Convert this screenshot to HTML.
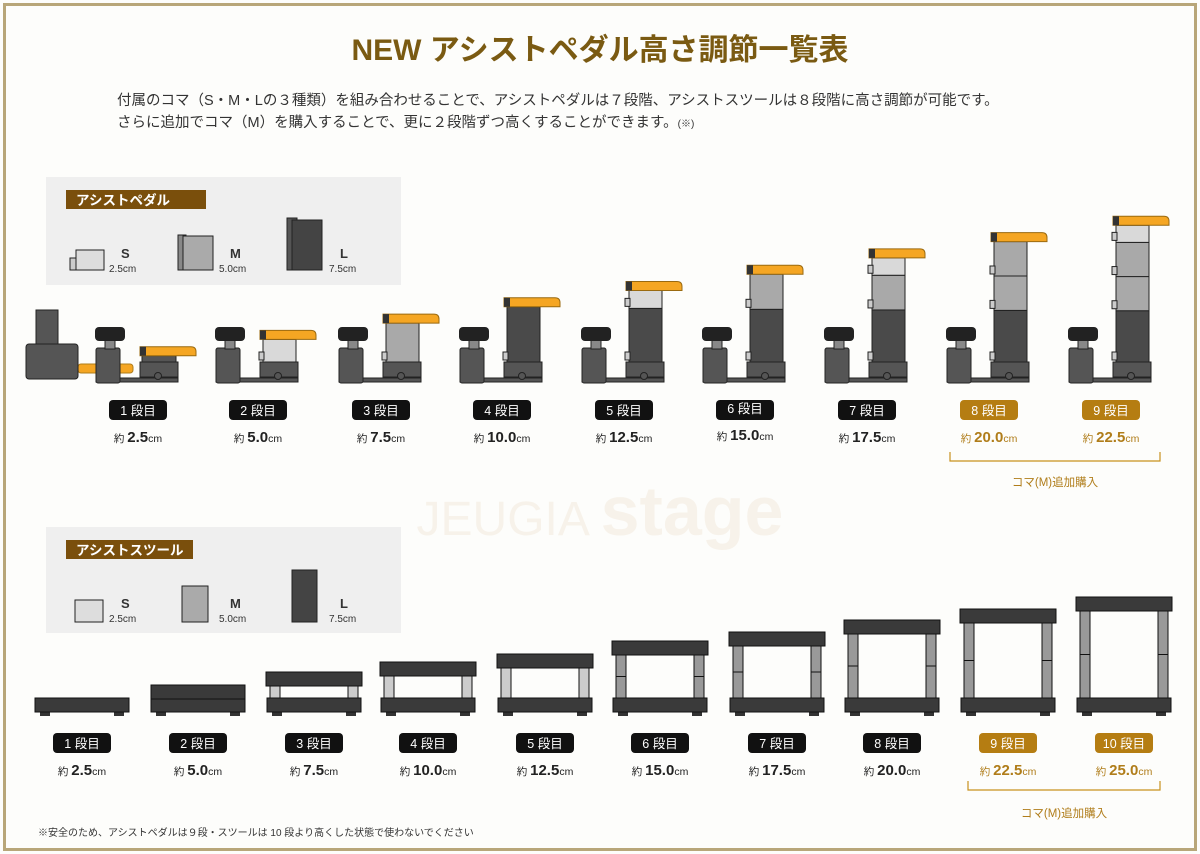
<!DOCTYPE html>
<html><head><meta charset="utf-8"><style>
html,body{margin:0;padding:0;background:#fff}
svg{display:block}
text{font-family:"Liberation Sans","Noto Sans CJK JP",sans-serif}
</style></head><body>
<svg id="s" width="1200" height="854" viewBox="0 0 1200 854" xmlns="http://www.w3.org/2000/svg">
<rect x="0" y="0" width="1200" height="854" fill="#fdfdfb"/>
<rect x="4.5" y="4.5" width="1191" height="845" fill="none" stroke="#b8a679" stroke-width="3"/>
<text x="600" y="60" text-anchor="middle" font-size="30" font-weight="bold" fill="#7a5a12">NEW アシストペダル高さ調節一覧表</text>
<text x="117" y="105" font-size="14.5" fill="#333">付属のコマ（S・M・Lの３種類）を組み合わせることで、アシストペダルは７段階、アシストスツールは８段階に高さ調節が可能です。</text>
<text x="117" y="127" font-size="14.5" fill="#333">さらに追加でコマ（M）を購入することで、更に２段階ずつ高くすることができます。<tspan font-size="10">(※)</tspan></text>
<text x="600" y="535" text-anchor="middle" font-size="70" fill="#f7f2ea" font-weight="bold"><tspan font-weight="normal" font-size="48">JEUGIA </tspan>stage</text>
<rect x="46" y="177" width="355" height="108" fill="#efefef"/>
<rect x="66" y="190" width="140" height="19" fill="#7a4f0c"/>
<text x="76" y="205" font-size="13.5" font-weight="bold" fill="#fff">アシストペダル</text>
<rect x="46" y="527" width="355" height="106" fill="#efefef"/>
<rect x="66" y="540" width="127" height="19" fill="#7a4f0c"/>
<text x="76" y="555" font-size="13.5" font-weight="bold" fill="#fff">アシストスツール</text>
<g id="leg"></g>
<g id="g"></g>
<g font-size="13" fill="#333" font-weight="bold">
<text x="121" y="258">S</text><text x="230" y="258">M</text><text x="340" y="258">L</text>
<text x="121" y="608">S</text><text x="230" y="608">M</text><text x="340" y="608">L</text>
</g>
<g font-size="10" fill="#333">
<text x="109" y="272">2.5cm</text><text x="219" y="272">5.0cm</text><text x="329" y="272">7.5cm</text>
<text x="109" y="622">2.5cm</text><text x="219" y="622">5.0cm</text><text x="329" y="622">7.5cm</text>
</g>
<g id="lab"></g>
<g stroke="#c8921e" stroke-width="1.2" fill="none">
<path d="M950 452 V461 H1160 V452"/><path d="M968 781 V790 H1160 V781"/>
</g>
<text x="1055" y="486" text-anchor="middle" font-size="11.5" fill="#b07d1a">コマ(M)追加購入</text>
<text x="1064" y="817" text-anchor="middle" font-size="11.5" fill="#b07d1a">コマ(M)追加購入</text>
<text x="38" y="836" font-size="10" fill="#333">※安全のため、アシストペダルは９段・スツールは 10 段より高くした状態で使わないでください</text>
<g id="t">
<text x="138" y="415">1 段目</text><text x="258" y="415">2 段目</text><text x="381" y="415">3 段目</text><text x="502" y="415">4 段目</text><text x="624" y="415">5 段目</text><text x="745" y="413">6 段目</text><text x="867" y="415">7 段目</text><text x="989" y="415">8 段目</text><text x="1111" y="415">9 段目</text>
<text x="82" y="748">1 段目</text><text x="198" y="748">2 段目</text><text x="314" y="748">3 段目</text><text x="428" y="748">4 段目</text><text x="545" y="748">5 段目</text><text x="660" y="748">6 段目</text><text x="777" y="748">7 段目</text><text x="892" y="748">8 段目</text><text x="1008" y="748">9 段目</text><text x="1124" y="748">10 段目</text>
</g>
<g id="h" font-size="10.5">
<text x="138" y="442">約 <tspan font-size="15" font-weight="bold">2.5</tspan>cm</text>
<text x="258" y="442">約 <tspan font-size="15" font-weight="bold">5.0</tspan>cm</text>
<text x="381" y="442">約 <tspan font-size="15" font-weight="bold">7.5</tspan>cm</text>
<text x="502" y="442">約 <tspan font-size="15" font-weight="bold">10.0</tspan>cm</text>
<text x="624" y="442">約 <tspan font-size="15" font-weight="bold">12.5</tspan>cm</text>
<text x="745" y="440">約 <tspan font-size="15" font-weight="bold">15.0</tspan>cm</text>
<text x="867" y="442">約 <tspan font-size="15" font-weight="bold">17.5</tspan>cm</text>
<text x="989" y="442" fill="#b07d1a">約 <tspan font-size="15" font-weight="bold">20.0</tspan>cm</text>
<text x="1111" y="442" fill="#b07d1a">約 <tspan font-size="15" font-weight="bold">22.5</tspan>cm</text>
<text x="82" y="775">約 <tspan font-size="15" font-weight="bold">2.5</tspan>cm</text>
<text x="198" y="775">約 <tspan font-size="15" font-weight="bold">5.0</tspan>cm</text>
<text x="314" y="775">約 <tspan font-size="15" font-weight="bold">7.5</tspan>cm</text>
<text x="428" y="775">約 <tspan font-size="15" font-weight="bold">10.0</tspan>cm</text>
<text x="545" y="775">約 <tspan font-size="15" font-weight="bold">12.5</tspan>cm</text>
<text x="660" y="775">約 <tspan font-size="15" font-weight="bold">15.0</tspan>cm</text>
<text x="777" y="775">約 <tspan font-size="15" font-weight="bold">17.5</tspan>cm</text>
<text x="892" y="775">約 <tspan font-size="15" font-weight="bold">20.0</tspan>cm</text>
<text x="1008" y="775" fill="#b07d1a">約 <tspan font-size="15" font-weight="bold">22.5</tspan>cm</text>
<text x="1124" y="775" fill="#b07d1a">約 <tspan font-size="15" font-weight="bold">25.0</tspan>cm</text>
</g>
</svg>
<script>
(function(){
var NS="http://www.w3.org/2000/svg";
function el(p,t,a){var e=document.createElementNS(NS,t);for(var k in a)e.setAttribute(k,a[k]);p.appendChild(e);return e;}
var g=document.getElementById('g'),lab=document.getElementById('lab'),leg=document.getElementById('leg');
var S="#222";
el(leg,'rect',{x:70,y:258,width:8,height:12,fill:"#ccc",stroke:S});
el(leg,'rect',{x:76,y:250,width:28,height:20,fill:"#ddd",stroke:S});
el(leg,'rect',{x:178,y:235,width:8,height:35,fill:"#888",stroke:S});
el(leg,'rect',{x:183,y:236,width:30,height:34,fill:"#aaa",stroke:S});
el(leg,'rect',{x:287,y:218,width:10,height:52,fill:"#555",stroke:S});
el(leg,'rect',{x:292,y:220,width:30,height:50,fill:"#444",stroke:S});
el(leg,'rect',{x:75,y:600,width:28,height:22,fill:"#ddd",stroke:S});
el(leg,'rect',{x:182,y:586,width:26,height:36,fill:"#aaa",stroke:S});
el(leg,'rect',{x:292,y:570,width:25,height:52,fill:"#444",stroke:S});
el(g,'rect',{x:78,y:364,width:55,height:9,rx:3,fill:"#f5a623",stroke:"#b07d1a"});
el(g,'rect',{x:36,y:310,width:22,height:36,fill:"#555",stroke:S});
el(g,'rect',{x:26,y:344,width:52,height:35,rx:3,fill:"#555",stroke:S});
var pc=[138,258,381,502,624,745,867,989,1111];
var comp={1:[],2:["S"],3:["M"],4:["L"],5:["L","S"],6:["L","M"],7:["L","M","S"],8:["L","M","M"],9:["L","M","M","S"]};
var col={S:"#d9d9d9",M:"#a9a9a9",L:"#4a4a4a"},uh={S:1,M:2,L:3};
pc.forEach(function(cx,i){
 var n=i+1,T=363-n*16.3;
 el(g,'rect',{x:cx-42,y:378,width:82,height:4,fill:"#555",stroke:S});
 el(g,'rect',{x:cx-42,y:348,width:24,height:35,rx:2,fill:"#555",stroke:S});
 el(g,'rect',{x:cx-33,y:340,width:10,height:9,fill:"#888",stroke:S});
 el(g,'rect',{x:cx-43,y:327,width:30,height:14,rx:4,fill:"#222"});
 el(g,'rect',{x:cx+2,y:362,width:38,height:15,fill:"#555",stroke:S});
 el(g,'circle',{cx:cx+20,cy:376,r:3.5,fill:"#555",stroke:S});
 var y=362;
 var pieces=comp[n],tot=0;pieces.forEach(function(p){tot+=uh[p]});
 if(n==1){el(g,'rect',{x:cx+4,y:T+9,width:34,height:362-T-9,fill:"#555",stroke:S});}
 else{var unit=(362-(T+9))/tot;
 pieces.forEach(function(p){var h=uh[p]*unit;y-=h;
  el(g,'rect',{x:cx+5,y:y,width:33,height:h,fill:col[p],stroke:S});
  el(g,'rect',{x:cx+1,y:y+h-10,width:5,height:8,fill:"#ccc",stroke:S});});}
 el(g,'path',{d:"M"+(cx+2)+" "+T+" H"+(cx+53)+" Q"+(cx+58)+" "+T+" "+(cx+58)+" "+(T+5)+" V"+(T+9)+" H"+(cx+2)+" Z",fill:"#f5a623",stroke:"#9a6a10"});
 el(g,'rect',{x:cx+2,y:T,width:6,height:9,fill:"#333"});
 el(lab,'rect',{x:cx-29,y:400,width:58,height:20,rx:4,fill:n>=8?"#b57d12":"#111"});
});
var sc=[82,198,314,428,545,660,777,892,1008,1124],st=[698,685,672,662,654,641,632,620,609,597];
sc.forEach(function(cx,i){
 var n=i+1,T=st[i];
 el(g,'rect',{x:cx-42,y:711,width:10,height:5,fill:"#333"});
 el(g,'rect',{x:cx+32,y:711,width:10,height:5,fill:"#333"});
 if(n==1){el(g,'rect',{x:cx-47,y:698,width:94,height:14,fill:"#3a3a3a",stroke:"#111"});}
 else if(n==2){el(g,'rect',{x:cx-47,y:685,width:94,height:27,fill:"#3a3a3a",stroke:"#111"});el(g,'line',{x1:cx-47,y1:699,x2:cx+47,y2:699,stroke:"#111"});}
 else{
  el(g,'rect',{x:cx-44,y:T+14,width:10,height:698-T-14,fill:n>5?"#999":"#ccc",stroke:"#111"});
  el(g,'rect',{x:cx+34,y:T+14,width:10,height:698-T-14,fill:n>5?"#999":"#ccc",stroke:"#111"});
  if(n>=6){var m=(T+14+698)/2;el(g,'line',{x1:cx-44,y1:m,x2:cx-34,y2:m,stroke:"#111"});el(g,'line',{x1:cx+34,y1:m,x2:cx+44,y2:m,stroke:"#111"});}
  el(g,'rect',{x:cx-47,y:698,width:94,height:14,fill:"#3a3a3a",stroke:"#111"});
  el(g,'rect',{x:cx-48,y:T,width:96,height:14,fill:"#3a3a3a",stroke:"#111"});
 }
 el(lab,'rect',{x:cx-29,y:733,width:58,height:20,rx:4,fill:n>=9?"#b57d12":"#111"});
});
var ts=document.getElementById('t').children;
for(var k=0;k<ts.length;k++){ts[k].setAttribute('text-anchor','middle');ts[k].setAttribute('font-size','12.5');ts[k].setAttribute('fill','#fff');}
var hs=document.getElementById('h').children;
for(var k=0;k<hs.length;k++){hs[k].setAttribute('text-anchor','middle');if(!hs[k].getAttribute('fill'))hs[k].setAttribute('fill','#222');}
})();
</script>
</body></html>
